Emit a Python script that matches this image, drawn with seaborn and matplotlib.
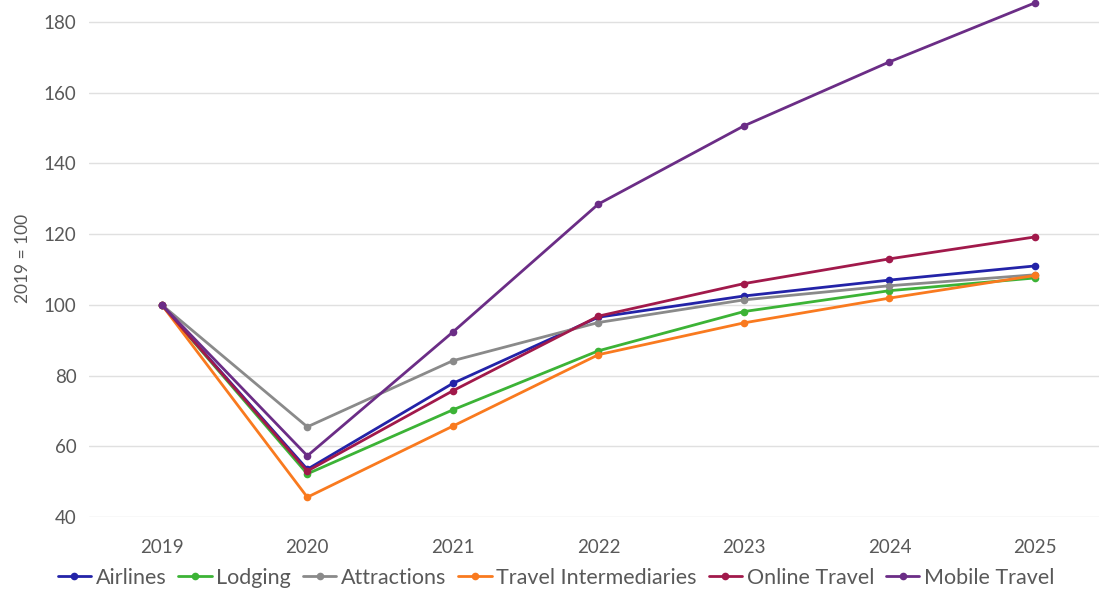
import pandas as pd
import seaborn as sns
import matplotlib.pyplot as plt

# Index values (2019 = 100)
years = [2019, 2020, 2021, 2022, 2023, 2024, 2025]
airlines = [100, 53.5, 77.8, 96.5, 102.5, 107.0, 111.0]
lodging = [100, 52.2, 70.3, 87.0, 98.1, 104.0, 107.6]
attractions = [100, 65.5, 84.2, 95.0, 101.4, 105.4, 108.5]
travel_intermediaries = [100, 45.6, 65.7, 85.9, 94.9, 101.9, 108.3]
online_travel = [100, 53.0, 75.7, 96.8, 106.0, 113.0, 119.2]
mobile_travel = [100, 57.3, 92.3, 128.5, 150.6, 168.7, 185.4]

series_names = ["Airlines", "Lodging", "Attractions", "Travel Intermediaries",
                "Online Travel", "Mobile Travel"]
series_values = [airlines, lodging, attractions, travel_intermediaries,
                 online_travel, mobile_travel]
colors = ["#2323a8", "#3cb336", "#8a8a8a", "#f97a1f", "#a1194b", "#6b2d86"]

# long-form table for seaborn
rows = []
for name, vals in zip(series_names, series_values):
    for yr, v in zip(years, vals):
        rows.append({"year": yr, "value": v, "segment": name})
df = pd.DataFrame(rows)

sns.set_style("white")
plt.rcParams['font.family'] = ['Lato', 'DejaVu Sans']

fig = plt.figure(figsize=(10.99, 5.94), dpi=100)
ax = fig.add_axes([0.081, 0.1296, 0.919, 0.8704])

sns.lineplot(data=df, x="year", y="value", hue="segment", hue_order=series_names,
             palette=colors, marker="o", markersize=5.5, markeredgewidth=0,
             linewidth=2.0, ax=ax, legend=True)

ax.set_xlim(2018.5, 2025.44)
ax.set_ylim(40, 186.2)
ax.set_yticks(range(40, 181, 20))
ax.set_xticks(years)
ax.set_xticklabels([str(y) for y in years])
ax.yaxis.grid(True, color="#e0e0e0", linewidth=1)
ax.xaxis.grid(False)
for s in ax.spines.values():
    s.set_visible(False)
ax.tick_params(axis="both", length=0, labelsize=13.5, labelcolor="#595959")
ax.tick_params(axis="x", pad=16)
ax.tick_params(axis="y", pad=9)
ax.set_xlabel("")
ax.set_ylabel("2019 = 100", fontsize=12.5, color="#595959", labelpad=9)
for line in ax.lines:
    line.set_clip_on(False)

handles, labels = ax.get_legend_handles_labels()
ax.get_legend().remove()
fig.legend(handles, labels, loc="lower center", bbox_to_anchor=(0.506, -0.022),
           ncol=6, frameon=False, fontsize=15.5, labelcolor="#595959",
           handlelength=1.55, handletextpad=0.22, columnspacing=0.55)

fig.savefig("out.png", dpi=100)
